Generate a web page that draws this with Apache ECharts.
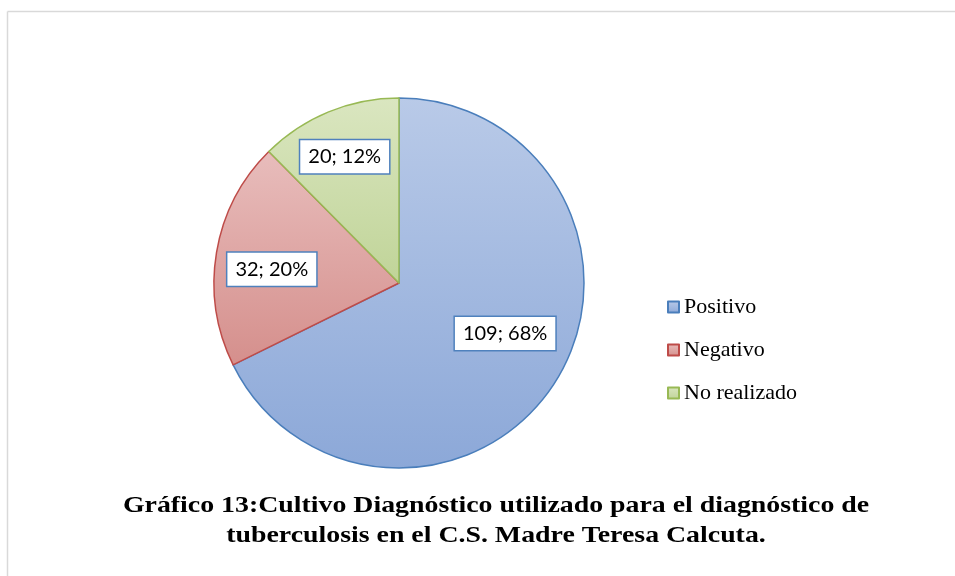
<!DOCTYPE html>
<html>
<head>
  <meta charset="UTF-8">
  <title>Gráfico 13</title>
  <script src="https://cdn.jsdelivr.net/npm/echarts@6/dist/echarts.min.js"></script>
</head>
<body style="margin:0;background:#fff;">
<div id="main" style="width: 955px;height:576px;"></div>
<script type="text/javascript">
  // datos del grafico
  var categorias = ['Positivo', 'Negativo', 'No realizado'];
  var valores = [109, 32, 20];
  var titulo = [
    'Gráfico 13:Cultivo Diagnóstico utilizado para el diagnóstico de',
    'tuberculosis en el C.S. Madre Teresa Calcuta.'
  ];

  // estilo de cada porcion (degradado arriba -> abajo, borde)
  var colores = [
    ['#b9cae8', '#8ca8d8', '#4a7ebb'],
    ['#e8bdbc', '#d58f8c', '#be4b48'],
    ['#dae6c0', '#c0d498', '#98b954']
  ];
  // desplazamiento de las etiquetas respecto a la posicion 'inside'
  var desplazar = [[25, 0], [-33, 2], [-18, -38]];

  var myChart = echarts.init(document.getElementById('main'));

  var dataList = [];
  for (var i = 0; i < categorias.length; i++) {
    dataList.push({
      name: categorias[i],
      value: valores[i],
      itemStyle: {
        color: new echarts.graphic.LinearGradient(0, 0, 0, 1, [
          {offset: 0, color: colores[i][0]},
          {offset: 1, color: colores[i][1]}
        ]),
        borderColor: colores[i][2],
        borderWidth: 1.5
      }
    });
  }

  // titulo como texto grafico (un poco ensanchado como en el original)
  var graficos = [
    {type: 'line', shape: {x1: 7.5, y1: 11.5, x2: 955, y2: 11.5}, style: {stroke: '#d9d9d9', lineWidth: 1.5}},
    {type: 'line', shape: {x1: 7.5, y1: 11.5, x2: 7.5, y2: 576}, style: {stroke: '#d9d9d9', lineWidth: 1.5}}
  ];
  titulo.forEach(function (t, k) {
    graficos.push({
      type: 'text',
      x: 496,
      y: 506 + k * 30,
      scaleX: 1.16,
      style: {
        text: t,
        x: 0,
        y: 0,
        textAlign: 'center',
        textVerticalAlign: 'middle',
        font: 'bold 24px "Liberation Serif"',
        fill: '#000'
      }
    });
  });

  var option = {
    animation: false,
    backgroundColor: '#fff',
    legend: {
      orient: 'vertical',
      left: 662,
      top: 291,
      icon: 'rect',
      itemWidth: 11,
      itemHeight: 11,
      itemGap: 21,
      data: categorias,
      textStyle: {
        fontFamily: 'Liberation Serif',
        fontSize: 22,
        color: '#000'
      }
    },
    graphic: graficos,
    series: [{
      name: 'Cultivo',
      type: 'pie',
      center: [399, 283],
      radius: [0, 185],
      startAngle: 90,
      clockwise: true,
      percentPrecision: 0,
      label: {
        show: true,
        position: 'inside',
        formatter: '{c}; {d}%',
        fontFamily: 'Lato',
        fontSize: 20,
        color: '#000',
        backgroundColor: '#fff',
        borderColor: '#4f81bd',
        borderWidth: 1.5,
        padding: [7, 8, 6, 8]
      },
      labelLine: {show: false},
      labelLayout: function (params) {
        var d = desplazar[params.dataIndex];
        return {dx: d[0], dy: d[1]};
      },
      emphasis: {disabled: true},
      data: dataList
    }]
  };

  myChart.setOption(option);
</script>
</body>
</html>
